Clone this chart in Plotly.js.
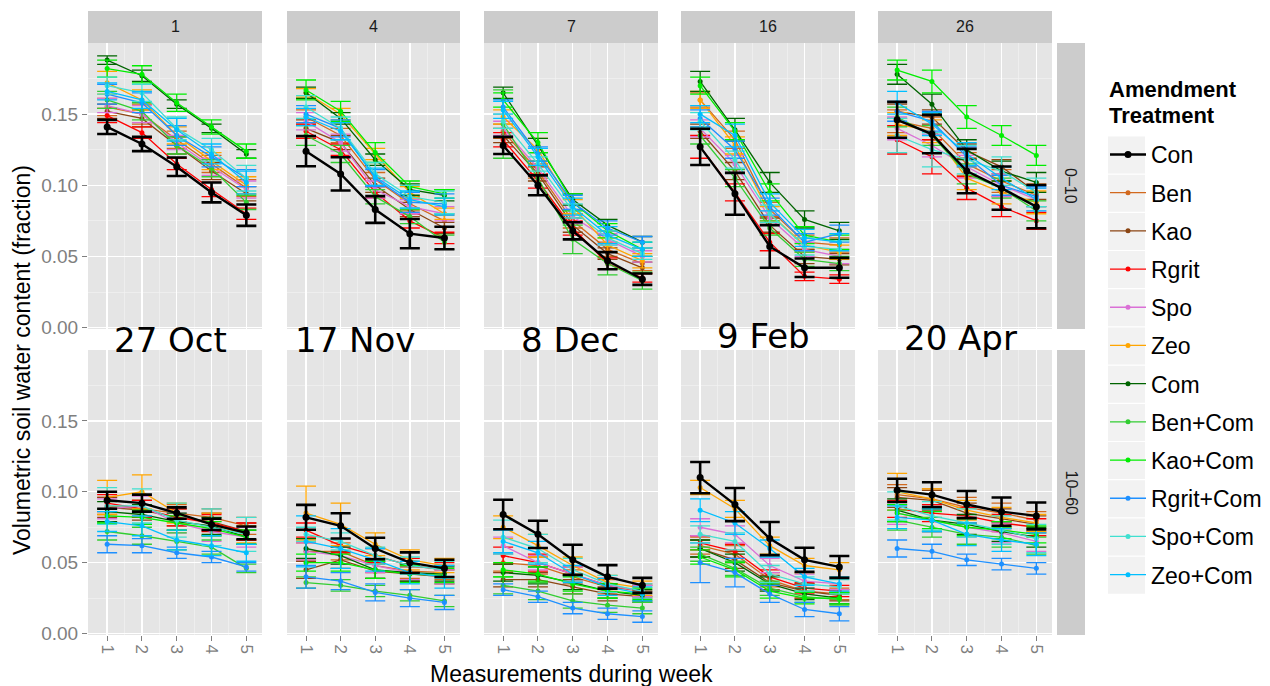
<!DOCTYPE html>
<html><head><meta charset="utf-8">
<script src="https://cdn.plot.ly/plotly-3.0.1.min.js"></script>
<style>html,body{margin:0;padding:0;background:#fff}#chart{width:1270px;height:686px}</style>
</head><body><div id="chart"></div>
<script>
// ---------------- DATA ----------------
const weeks = ["1", "4", "7", "16", "26"];
const depths = ["0–10", "10–60"];
const dates = ["27 Oct", "17 Nov", "8 Dec", "9 Feb", "20 Apr"];
const measurements = [1, 2, 3, 4, 5];
const treatments = ["Con","Ben","Kao","Rgrit","Spo","Zeo","Com","Ben+Com","Kao+Com","Rgrit+Com","Spo+Com","Zeo+Com"];

// 0-10 cm depth, means (rows follow treatments order)
const top_w1 = [
 [0.141,0.129,0.113,0.095,0.079],[0.155,0.150,0.132,0.115,0.098],[0.152,0.147,0.128,0.110,0.094],
 [0.149,0.137,0.115,0.097,0.080],[0.156,0.150,0.130,0.113,0.097],[0.172,0.160,0.135,0.117,0.100],
 [0.188,0.177,0.157,0.140,0.122],[0.160,0.152,0.128,0.112,0.088],[0.182,0.178,0.158,0.141,0.124],
 [0.164,0.158,0.135,0.120,0.105],[0.170,0.165,0.140,0.125,0.105],[0.166,0.160,0.139,0.122,0.102]];
const top_w1_err = [
 [0.005,0.005,0.0065,0.007,0.0075],[0.006,0.007,0.006,0.006,0.006],[0.005,0.006,0.006,0.006,0.005],
 [0.005,0.004,0.004,0.005,0.004],[0.005,0.006,0.005,0.006,0.006],[0.008,0.007,0.006,0.006,0.006],
 [0.003,0.004,0.003,0.003,0.003],[0.006,0.006,0.006,0.006,0.005],[0.006,0.006,0.006,0.005,0.005],
 [0.007,0.007,0.007,0.007,0.006],[0.006,0.006,0.008,0.008,0.009],[0.006,0.006,0.008,0.007,0.008]];

const top_w4 = [
 [0.124,0.108,0.083,0.066,0.063],[0.148,0.135,0.104,0.087,0.075],[0.140,0.130,0.100,0.083,0.070],
 [0.138,0.125,0.095,0.075,0.063],[0.145,0.130,0.097,0.085,0.080],[0.165,0.150,0.122,0.095,0.080],
 [0.165,0.147,0.118,0.097,0.093],[0.135,0.122,0.092,0.078,0.060],[0.167,0.152,0.123,0.099,0.094],
 [0.150,0.140,0.105,0.088,0.087],[0.155,0.140,0.108,0.092,0.088],[0.148,0.138,0.106,0.090,0.085]];
const top_w4_err = [
 [0.0106,0.0117,0.0094,0.0103,0.0079],[0.005,0.005,0.005,0.005,0.004],[0.006,0.005,0.005,0.005,0.004],
 [0.005,0.004,0.004,0.005,0.004],[0.006,0.006,0.006,0.005,0.005],[0.003,0.004,0.004,0.004,0.004],
 [0.004,0.004,0.004,0.004,0.004],[0.007,0.006,0.005,0.005,0.005],[0.007,0.007,0.007,0.004,0.003],
 [0.006,0.006,0.006,0.007,0.007],[0.008,0.008,0.008,0.008,0.008],[0.006,0.006,0.006,0.006,0.006]];

const top_w7 = [
 [0.128,0.100,0.068,0.047,0.034],[0.138,0.110,0.075,0.055,0.045],[0.135,0.108,0.072,0.052,0.042],
 [0.132,0.103,0.070,0.045,0.035],[0.140,0.112,0.078,0.062,0.050],[0.148,0.125,0.085,0.058,0.047],
 [0.165,0.128,0.090,0.072,0.060],[0.143,0.105,0.062,0.045,0.033],[0.160,0.130,0.088,0.068,0.055],
 [0.155,0.122,0.088,0.070,0.060],[0.145,0.115,0.082,0.063,0.052],[0.153,0.120,0.085,0.065,0.055]];
const top_w7_err = [
 [0.006,0.007,0.006,0.006,0.004],[0.005,0.005,0.005,0.005,0.005],[0.005,0.005,0.005,0.004,0.004],
 [0.005,0.005,0.005,0.004,0.003],[0.005,0.005,0.005,0.004,0.004],[0.005,0.008,0.005,0.005,0.005],
 [0.004,0.005,0.004,0.004,0.004],[0.024,0.012,0.010,0.008,0.006],[0.005,0.007,0.006,0.005,0.005],
 [0.005,0.005,0.005,0.005,0.004],[0.005,0.005,0.005,0.005,0.004],[0.006,0.006,0.006,0.006,0.005]];

const top_w16 = [
 [0.127,0.094,0.057,0.042,0.042],[0.160,0.132,0.083,0.060,0.058],[0.138,0.110,0.072,0.050,0.048],
 [0.127,0.095,0.060,0.036,0.034],[0.140,0.115,0.077,0.055,0.050],[0.160,0.128,0.080,0.058,0.053],
 [0.173,0.139,0.102,0.076,0.068],[0.135,0.105,0.070,0.048,0.045],[0.170,0.138,0.095,0.065,0.060],
 [0.147,0.125,0.085,0.060,0.066],[0.145,0.118,0.080,0.057,0.055],[0.150,0.135,0.088,0.063,0.060]];
const top_w16_err = [
 [0.0127,0.0147,0.015,0.0065,0.007],[0.005,0.006,0.005,0.005,0.005],[0.005,0.006,0.005,0.005,0.004],
 [0.008,0.006,0.006,0.003,0.003],[0.006,0.006,0.005,0.005,0.005],[0.006,0.006,0.005,0.005,0.005],
 [0.007,0.008,0.007,0.006,0.006],[0.006,0.006,0.005,0.005,0.005],[0.006,0.006,0.006,0.006,0.005],
 [0.006,0.006,0.006,0.006,0.006],[0.006,0.006,0.006,0.006,0.006],[0.006,0.008,0.006,0.006,0.006]];

const top_w26 = [
 [0.146,0.136,0.110,0.098,0.085],[0.145,0.140,0.115,0.103,0.093],[0.152,0.148,0.124,0.113,0.095],
 [0.132,0.120,0.098,0.085,0.075],[0.140,0.128,0.113,0.100,0.090],[0.143,0.138,0.105,0.095,0.088],
 [0.178,0.157,0.125,0.110,0.102],[0.148,0.135,0.108,0.098,0.082],[0.181,0.173,0.148,0.135,0.121],
 [0.152,0.145,0.120,0.100,0.092],[0.135,0.125,0.118,0.110,0.095],[0.158,0.143,0.122,0.105,0.090]];
const top_w26_err = [
 [0.0126,0.0135,0.0156,0.0152,0.0152],[0.008,0.008,0.008,0.008,0.008],[0.005,0.005,0.005,0.005,0.005],
 [0.010,0.012,0.008,0.007,0.006],[0.008,0.008,0.008,0.008,0.008],[0.008,0.008,0.008,0.008,0.008],
 [0.007,0.007,0.007,0.007,0.007],[0.007,0.007,0.007,0.007,0.007],[0.007,0.008,0.008,0.007,0.007],
 [0.007,0.007,0.007,0.007,0.007],[0.012,0.012,0.010,0.010,0.010],[0.008,0.008,0.008,0.008,0.008]];

// 10-60 cm depth
const bot_w1 = [
 [0.094,0.092,0.085,0.077,0.071],[0.090,0.088,0.085,0.082,0.076],[0.089,0.087,0.082,0.079,0.072],
 [0.092,0.088,0.082,0.078,0.072],[0.088,0.090,0.078,0.072,0.068],[0.096,0.100,0.085,0.077,0.070],
 [0.086,0.084,0.079,0.076,0.068],[0.072,0.069,0.065,0.061,0.046],[0.083,0.082,0.078,0.074,0.068],
 [0.063,0.062,0.057,0.054,0.047],[0.090,0.090,0.080,0.075,0.070],[0.079,0.076,0.066,0.062,0.057]];
const bot_w1_err = [
 [0.006,0.006,0.004,0.004,0.0045],[0.006,0.006,0.006,0.006,0.006],[0.007,0.007,0.006,0.006,0.006],
 [0.006,0.006,0.006,0.006,0.006],[0.007,0.007,0.007,0.007,0.007],[0.012,0.012,0.007,0.008,0.006],
 [0.007,0.007,0.006,0.006,0.005],[0.006,0.006,0.006,0.005,0.003],[0.005,0.005,0.005,0.005,0.005],
 [0.006,0.005,0.004,0.004,0.003],[0.013,0.012,0.012,0.013,0.012],[0.007,0.007,0.007,0.007,0.006]];

const bot_w4 = [
 [0.082,0.076,0.060,0.050,0.046],[0.058,0.058,0.048,0.044,0.043],[0.045,0.052,0.044,0.042,0.040],
 [0.073,0.062,0.055,0.048,0.045],[0.058,0.055,0.048,0.043,0.040],[0.085,0.077,0.063,0.052,0.048],
 [0.060,0.055,0.045,0.043,0.042],[0.036,0.034,0.030,0.027,0.023],[0.050,0.050,0.045,0.042,0.041],
 [0.040,0.037,0.029,0.025,0.022],[0.070,0.065,0.055,0.048,0.045],[0.065,0.060,0.052,0.043,0.040]];
const bot_w4_err = [
 [0.0088,0.0089,0.0076,0.0073,0.0061],[0.006,0.006,0.005,0.005,0.005],[0.006,0.006,0.005,0.005,0.005],
 [0.005,0.005,0.005,0.005,0.005],[0.006,0.006,0.005,0.005,0.005],[0.019,0.015,0.008,0.007,0.005],
 [0.007,0.006,0.006,0.006,0.005],[0.004,0.004,0.004,0.004,0.004],[0.006,0.006,0.006,0.006,0.005],
 [0.008,0.006,0.006,0.006,0.005],[0.005,0.006,0.006,0.006,0.006],[0.018,0.014,0.008,0.008,0.008]];

const bot_w7 = [
 [0.084,0.070,0.052,0.040,0.034],[0.050,0.048,0.040,0.033,0.030],[0.038,0.038,0.033,0.028,0.026],
 [0.055,0.050,0.042,0.034,0.030],[0.062,0.050,0.042,0.034,0.030],[0.075,0.062,0.048,0.036,0.032],
 [0.043,0.041,0.036,0.030,0.027],[0.034,0.030,0.023,0.020,0.018],[0.045,0.042,0.035,0.030,0.028],
 [0.031,0.026,0.018,0.014,0.012],[0.068,0.060,0.045,0.035,0.030],[0.065,0.057,0.042,0.033,0.028]];
const bot_w7_err = [
 [0.0104,0.0096,0.0106,0.0083,0.0053],[0.006,0.006,0.005,0.005,0.005],[0.005,0.005,0.005,0.005,0.004],
 [0.006,0.006,0.005,0.005,0.004],[0.006,0.005,0.005,0.005,0.004],[0.008,0.008,0.006,0.005,0.005],
 [0.006,0.006,0.005,0.005,0.004],[0.006,0.006,0.005,0.005,0.004],[0.005,0.005,0.005,0.005,0.004],
 [0.004,0.004,0.004,0.004,0.004],[0.012,0.010,0.008,0.006,0.005],[0.008,0.008,0.006,0.006,0.005]];

const bot_w16 = [
 [0.110,0.091,0.067,0.052,0.047],[0.062,0.056,0.038,0.030,0.028],[0.060,0.052,0.036,0.030,0.027],
 [0.064,0.058,0.040,0.032,0.030],[0.075,0.070,0.048,0.037,0.035],[0.103,0.088,0.062,0.048,0.045],
 [0.060,0.050,0.035,0.028,0.025],[0.056,0.046,0.032,0.026,0.024],[0.054,0.045,0.030,0.025,0.025],
 [0.050,0.043,0.028,0.017,0.014],[0.070,0.065,0.042,0.035,0.033],[0.087,0.078,0.060,0.040,0.035]];
const bot_w16_err = [
 [0.011,0.0117,0.0117,0.0085,0.0077],[0.006,0.006,0.005,0.005,0.004],[0.006,0.006,0.005,0.005,0.004],
 [0.005,0.005,0.005,0.004,0.004],[0.006,0.006,0.005,0.005,0.004],[0.005,0.006,0.006,0.005,0.005],
 [0.006,0.006,0.005,0.004,0.004],[0.005,0.005,0.005,0.004,0.004],[0.005,0.005,0.005,0.004,0.004],
 [0.014,0.010,0.006,0.005,0.005],[0.006,0.006,0.006,0.005,0.005],[0.008,0.008,0.006,0.006,0.005]];

const bot_w26 = [
 [0.101,0.098,0.091,0.086,0.083],[0.098,0.095,0.089,0.085,0.080],[0.096,0.094,0.085,0.081,0.077],
 [0.088,0.085,0.083,0.078,0.075],[0.085,0.080,0.075,0.071,0.065],[0.100,0.095,0.087,0.082,0.078],
 [0.087,0.080,0.077,0.072,0.068],[0.080,0.075,0.070,0.068,0.062],[0.085,0.080,0.075,0.073,0.070],
 [0.060,0.058,0.052,0.049,0.046],[0.090,0.083,0.078,0.073,0.067],[0.082,0.080,0.070,0.066,0.063]];
const bot_w26_err = [
 [0.0082,0.0087,0.0096,0.010,0.0095],[0.007,0.007,0.007,0.007,0.006],[0.007,0.007,0.007,0.007,0.006],
 [0.006,0.006,0.006,0.006,0.006],[0.008,0.008,0.007,0.007,0.007],[0.013,0.007,0.007,0.007,0.006],
 [0.008,0.008,0.007,0.007,0.007],[0.007,0.007,0.007,0.007,0.006],[0.006,0.006,0.006,0.006,0.006],
 [0.006,0.005,0.004,0.004,0.004],[0.010,0.010,0.010,0.010,0.010],[0.008,0.008,0.008,0.008,0.008]];

// ---------------- STYLE ----------------
const colors = ["#000000","#D2691E","#8B4513","#FF0000","#DA70D6","#FFA500","#006400","#32CD32","#00EE00","#1E90FF","#40E0D0","#00BFFF"];
const W = 1270, H = 686;
const colPx = [[88,262],[287,460],[484,658],[681,855],[878,1052]];
const rowPx = [[43,329],[350,635]];
const stripTop = [11,43];
const stripRight = [1057,1085];
const legendFirstY = 155, legendStep = 38.2;

const means = [[top_w1,top_w4,top_w7,top_w16,top_w26],[bot_w1,bot_w4,bot_w7,bot_w16,bot_w26]];
const errs = [[top_w1_err,top_w4_err,top_w7_err,top_w16_err,top_w26_err],[bot_w1_err,bot_w4_err,bot_w7_err,bot_w16_err,bot_w26_err]];

const traces = [];
const layout = {
  width: W, height: H,
  margin: {l:0, r:0, t:0, b:0},
  paper_bgcolor: "#ffffff",
  plot_bgcolor: "#E5E5E5",
  font: {family: "Liberation Sans, Arial, sans-serif", color: "#000"},
  showlegend: true,
  legend: {
    x: 1105/W, y: 1 - 133/H, xanchor: "left", yanchor: "top",
    font: {size: 23, color: "#000"},
    tracegroupgap: 5.3, itemwidth: 36, bgcolor: "rgba(0,0,0,0)"
  },
  shapes: [], annotations: []
};

const drawOrder = [1,2,3,4,5,6,7,8,9,10,11,0];
for (let r = 0; r < 2; r++) {
  for (let c = 0; c < 5; c++) {
    const idx = r*5 + c + 1;
    const suf = idx === 1 ? "" : String(idx);
    const xa = "xaxis" + suf, ya = "yaxis" + suf;
    layout[xa] = {
      domain: [colPx[c][0]/W, colPx[c][1]/W], anchor: "y" + suf,
      range: [0.45, 5.45], tickmode: "array", tickvals: measurements, ticktext: measurements.map(String),
      showticklabels: r === 1, ticks: r === 1 ? "outside" : "", ticklen: 5, tickcolor: "#7f7f7f", tickwidth: 1,
      tickangle: 90, tickfont: {size: 17, color: "#7f7f7f"},
      showgrid: true, gridcolor: "#ffffff", gridwidth: 1.4, zeroline: false, showline: false,
      minor: {tickmode: "array", tickvals: [1.5,2.5,3.5,4.5], showgrid: true, gridcolor: "#F2F2F2", gridwidth: 0.7, ticks: ""},
      fixedrange: true
    };
    layout[ya] = {
      domain: [1 - rowPx[r][1]/H, 1 - rowPx[r][0]/H], anchor: "x" + suf,
      range: [-0.001, 0.2], tickmode: "array", tickvals: [0, 0.05, 0.10, 0.15], ticktext: ["0.00","0.05","0.10","0.15"],
      showticklabels: c === 0, ticks: c === 0 ? "outside" : "", ticklen: 5, tickcolor: "#7f7f7f", tickwidth: 1,
      tickfont: {size: 19, color: "#7f7f7f"},
      showgrid: true, gridcolor: "#ffffff", gridwidth: 1.4, zeroline: false, showline: false,
      minor: {tickmode: "array", tickvals: [0.025,0.075,0.125,0.175], showgrid: true, gridcolor: "#F2F2F2", gridwidth: 0.7, ticks: ""},
      fixedrange: true
    };
    for (const s of drawOrder) {
      const isCon = s === 0;
      traces.push({
        type: "scatter", mode: "lines+markers",
        x: measurements, y: means[r][c][s],
        error_y: {type: "data", array: errs[r][c][s], visible: true, color: colors[s], thickness: isCon ? 2.6 : 1.3, width: 10},
        line: {color: colors[s], width: isCon ? 2.4 : 1.3},
        marker: {color: colors[s], size: isCon ? 7 : 5},
        name: treatments[s], legendgroup: treatments[s], legendrank: s + 1,
        showlegend: idx === 1,
        xaxis: "x" + suf, yaxis: "y" + suf, hoverinfo: "skip"
      });
    }
    if (r === 0) {
      layout.shapes.push({type: "rect", xref: "paper", yref: "paper", layer: "below",
        x0: colPx[c][0]/W, x1: colPx[c][1]/W, y0: 1 - stripTop[1]/H, y1: 1 - stripTop[0]/H,
        fillcolor: "#CCCCCC", line: {width: 0}});
      layout.annotations.push({xref: "paper", yref: "paper", showarrow: false,
        x: (colPx[c][0]+colPx[c][1])/2/W, y: 1 - (stripTop[0]+stripTop[1])/2/H,
        text: weeks[c], font: {size: 16, color: "#1a1a1a"}, xanchor: "center", yanchor: "middle"});
    }
  }
  layout.shapes.push({type: "rect", xref: "paper", yref: "paper", layer: "below",
    x0: stripRight[0]/W, x1: stripRight[1]/W, y0: 1 - rowPx[r][1]/H, y1: 1 - rowPx[r][0]/H,
    fillcolor: "#CCCCCC", line: {width: 0}});
  layout.annotations.push({xref: "paper", yref: "paper", showarrow: false,
    x: (stripRight[0]+stripRight[1])/2/W, y: 1 - (rowPx[r][0]+rowPx[r][1])/2/H,
    text: depths[r], textangle: 90, font: {size: 16, color: "#1a1a1a"}, xanchor: "center", yanchor: "middle"});
}

// legend key backgrounds (light grey boxes as in ggplot)
treatments.forEach((t, i) => {
  const cy = legendFirstY + i*legendStep;
  layout.shapes.push({type: "rect", xref: "paper", yref: "paper", layer: "below",
    x0: 1108/W, x1: 1145/W, y0: 1 - (cy + 18.5)/H, y1: 1 - (cy - 18.5)/H,
    fillcolor: "#F2F2F2", line: {width: 0}});
});
// legend title
layout.annotations.push({xref: "paper", yref: "paper", showarrow: false, x: 1107/W, y: 1 - 90/H,
  text: "<b>Amendment</b>", xanchor: "left", yanchor: "middle", font: {size: 22, color: "#000"}});
layout.annotations.push({xref: "paper", yref: "paper", showarrow: false, x: 1107/W, y: 1 - 116/H,
  text: "<b>Treatment</b>", xanchor: "left", yanchor: "middle", font: {size: 22, color: "#000"}});

// date labels between rows
const dateX = [170, 355, 570, 763, 960];
const dateY = [340, 340, 340, 336, 338];
dates.forEach((d, i) => {
  layout.annotations.push({xref: "paper", yref: "paper", showarrow: false,
    x: dateX[i]/W, y: 1 - dateY[i]/H, text: d, xanchor: "center", yanchor: "middle",
    font: {size: 34, family: "DejaVu Sans, sans-serif", color: "#000"}});
});
// axis titles
layout.annotations.push({xref: "paper", yref: "paper", showarrow: false,
  x: 22/W, y: 1 - 360/H, text: "Volumetric soil water content (fraction)", textangle: -90,
  xanchor: "center", yanchor: "middle", font: {size: 23, color: "#000"}});
layout.annotations.push({xref: "paper", yref: "paper", showarrow: false,
  x: 571/W, y: 1 - 674/H, text: "Measurements during week",
  xanchor: "center", yanchor: "middle", font: {size: 23, color: "#000"}});

Plotly.newPlot("chart", traces, layout, {displayModeBar: false, staticPlot: true});
</script>
</body></html>
